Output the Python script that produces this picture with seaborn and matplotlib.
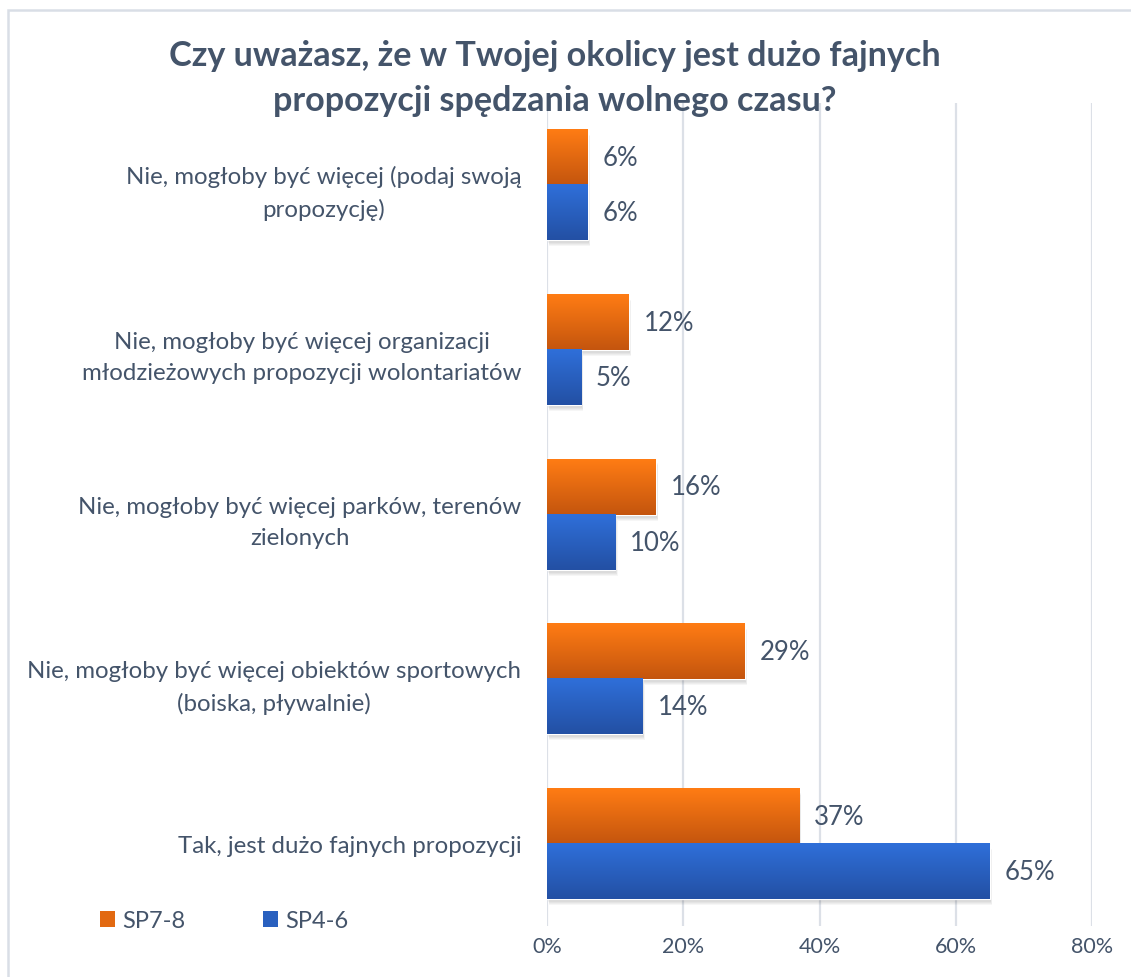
import numpy as np
import pandas as pd
import matplotlib
matplotlib.use("Agg")
import matplotlib.pyplot as plt
import seaborn as sns
from matplotlib.patches import Rectangle, Patch

# --- data -------------------------------------------------------------
categories = [
    "Nie, mogłoby być więcej (podaj swoją\npropozycję)",
    "Nie, mogłoby być więcej organizacji\nmłodzieżowych propozycji wolontariatów",
    "Nie, mogłoby być więcej parków, terenów\nzielonych",
    "Nie, mogłoby być więcej obiektów sportowych\n(boiska, pływalnie)",
    "Tak, jest dużo fajnych propozycji",
]
groups = ["SP7-8", "SP4-6"]
sp78 = [6, 12, 16, 29, 37]
sp46 = [6, 5, 10, 14, 65]
x_ticks = [0, 20, 40, 60, 80]
title = "Czy uważasz, że w Twojej okolicy jest dużo fajnych\npropozycji spędzania wolnego czasu?"

df = pd.DataFrame({
    "kategoria": categories * 2,
    "grupa": [groups[0]] * len(categories) + [groups[1]] * len(categories),
    "procent": sp78 + sp46,
})

# --- style ------------------------------------------------------------
TEXT = "#44546A"
GRID = "#DCE0E7"
grad = {
    "SP7-8": ((255, 124, 20), (196, 85, 14)),
    "SP4-6": ((47, 111, 217), (35, 80, 164)),
}
mid = {k: tuple((a + b) / 2 / 255 for a, b in zip(*v)) for k, v in grad.items()}

sns.set_theme(style="white")
plt.rcParams["font.family"] = ["Lato", "DejaVu Sans"]

W, H = 1131, 978
fig = plt.figure(figsize=(W / 100, H / 100), dpi=100)
ax = fig.add_axes([547 / W, 1 - 927 / H, 545 / W, 823 / H])

sns.barplot(
    data=df, y="kategoria", x="procent", hue="grupa",
    order=categories, hue_order=groups, palette=mid,
    orient="h", width=0.67, gap=0, saturation=1,
    legend=False, ax=ax, zorder=3,
)

ax.set_xlim(0, 80)
ylim = ax.get_ylim()

px_x = 80 / 545          # data units per pixel along x
px_y = 5 / 823           # data units per pixel along y

# vertical gradient fill, soft drop shadow and value labels for each bar
for grp, container in zip(groups, ax.containers):
    top, bot = (np.array(c) / 255 for c in grad[grp])
    t = np.linspace(0, 1, 64)[:, None]
    img = (top[None, :] * (1 - t) + bot[None, :] * t)[:, None, :]
    for bar in container:
        x0, y0 = bar.get_x(), bar.get_y()
        w, h = bar.get_width(), bar.get_height()
        for k in range(1, 7):
            ax.add_patch(Rectangle(
                (x0 + k * 0.4 * px_x, y0 + k * px_y), w, h,
                facecolor="black", edgecolor="none", alpha=0.035, zorder=2))
        ax.imshow(img, extent=(x0, x0 + w, y0 + h, y0), origin="upper",
                  aspect="auto", interpolation="bilinear", zorder=4)
        ax.text(x0 + w + 15 * px_x, y0 + h / 2, f"{w:g}%",
                ha="left", va="center", fontsize=18.5, color=TEXT, zorder=5)

ax.set_ylim(ylim)
ax.set_xlim(0, 80)

ax.set_xticks(x_ticks)
ax.set_xticklabels([f"{v}%" for v in x_ticks])
ax.xaxis.grid(True, color=GRID, linewidth=1.6, zorder=0)
ax.yaxis.grid(False)
ax.set_axisbelow(True)
for s in ax.spines.values():
    s.set_visible(False)
ax.tick_params(axis="x", length=0, pad=7, labelsize=15.5, labelcolor=TEXT)
ax.tick_params(axis="y", length=0, pad=18.5, labelsize=17.3, labelcolor=TEXT)
for lbl in ax.get_yticklabels():
    lbl.set_multialignment("center")
    lbl.set_linespacing(1.6)
ax.set_xlabel("")
ax.set_ylabel("")

fig.text(555 / W, 1 - 78.5 / H, title, ha="center", va="center",
         fontsize=24.6, fontweight="bold", color=TEXT, linespacing=1.5)

fig.legend(
    handles=[Patch(facecolor=mid[g], edgecolor="none", label=g) for g in groups],
    loc="center left", bbox_to_anchor=(100 / W, 1 - 922 / H),
    ncol=2, frameon=False, borderpad=0, borderaxespad=0,
    handlelength=0.64, handleheight=0.64,
    handletextpad=0.3, columnspacing=3.3, fontsize=17, labelcolor=TEXT,
)

fig.patches.append(Rectangle(
    (7.5 / W, -0.02), 1.1, 1.02 - 10.5 / H, transform=fig.transFigure,
    fill=False, edgecolor="#D9DEE6", linewidth=1.8))

fig.savefig("out.png", dpi=100, facecolor="white")
